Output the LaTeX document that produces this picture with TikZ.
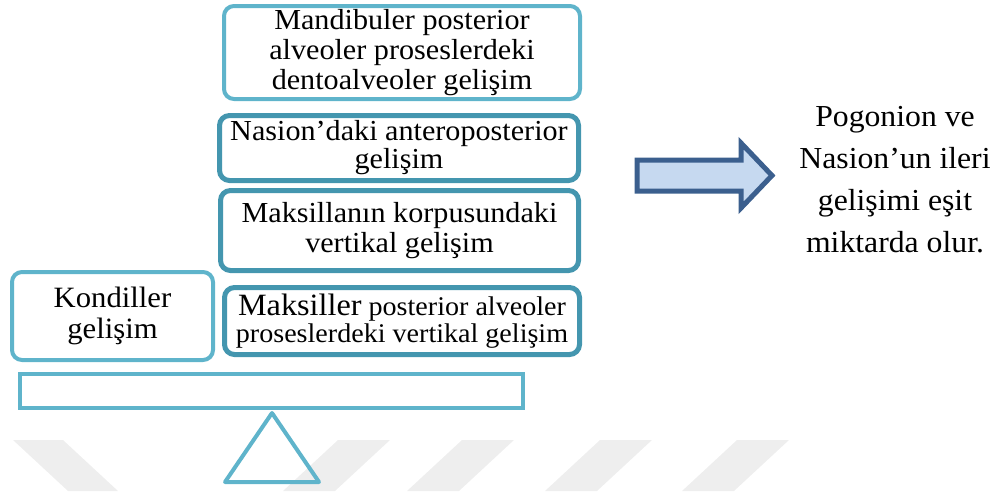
\documentclass[tikz,border=0pt]{standalone}
\usepackage{fontspec}
\setmainfont[FakeStretch=1.04]{Liberation Serif}
\definecolor{lightteal}{HTML}{5FB4CB}
\definecolor{darkteal}{HTML}{4496AF}
\definecolor{arrowfill}{HTML}{C6D9F0}
\definecolor{arrowline}{HTML}{3B5F8E}
\definecolor{stripegray}{HTML}{EEEEEE}
\tikzset{
    growbox/.style={draw=darkteal, line width=5pt, rounded corners=10pt, fill=white,
        align=center, inner sep=0pt, font=\fontsize{29}{30}\selectfont},
    lightbox/.style={growbox, draw=lightteal, line width=4pt}
}
\begin{document}
\begin{tikzpicture}[x=1pt, y=-1pt]
            \useasboundingbox (0,0) rectangle (1002,491);
            % faint background stripes
            \fill[stripegray] (13,440) -- (63,440) -- (118,491) -- (68,491) -- cycle;
            \foreach \sx in {338,462,600,737}
                \fill[stripegray] (\sx,440) -- (\sx+52,440) -- (\sx-3,491) -- (\sx-55,491) -- cycle;
            \node[lightbox, minimum width=356pt, minimum height=93pt] (mandib) at (402,52.5) {
                Mandibuler posterior\\ alveoler proseslerdeki\\ dentoalveoler gelişim
            };
            \node[growbox, minimum width=359pt, minimum height=65pt, font=\fontsize{29}{28}\selectfont] (nasion) at (399,148) {
                Nasion’daki anteroposterior\\ gelişim
            };
            \node[growbox, minimum width=358pt, minimum height=80pt] (korpus) at (399.5,230.5) {
                Maksillanın korpusundaki\\ vertikal gelişim
            };
            \node[growbox, minimum width=355pt, minimum height=67pt, font=\fontsize{27}{27}\selectfont] (maksiller) at (402,321) {
                {\fontsize{31}{27}\selectfont Maksiller} posterior alveoler\\ proseslerdeki vertikal gelişim
            };
            \node[lightbox, minimum width=201pt, minimum height=88pt, font=\fontsize{29.5}{31}\selectfont] (kondil) at (112.5,316) {
                Kondiller\\ gelişim
            };
            \node[lightbox, rounded corners=0pt, minimum width=503pt, minimum height=34pt] (plank) at (271.5,391) {};
            % fulcrum
            \draw[lightteal, line width=4pt, line join=round] (272,413) -- (319,482) -- (225,482) -- cycle;
            % block arrow
            \draw[arrowline, fill=arrowfill, line width=5pt, line join=miter]
                (637,160) -- (741,160) -- (741,143) -- (772,175.5) -- (741,208) -- (741,191) -- (637,191) -- cycle;
            \node[align=center, font=\fontsize{30.5}{42}\selectfont] (result) at (895,180) {
                Pogonion ve\\ Nasion’un ileri\\ gelişimi eşit\\ miktarda olur.
            };
        \end{tikzpicture}
\end{document}
